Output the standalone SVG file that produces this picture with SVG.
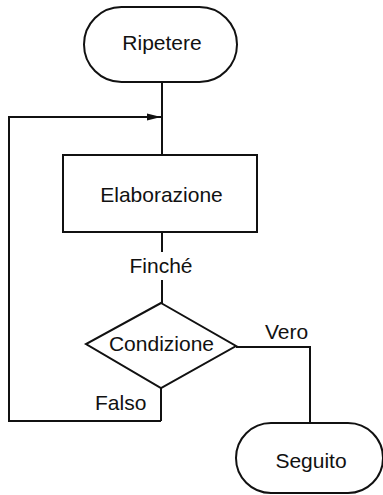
<svg xmlns="http://www.w3.org/2000/svg" width="383" height="495" viewBox="0 0 383 495">
  <style>
    .shape { fill: #fff; stroke: #111; stroke-width: 2; }
    .wire { fill: none; stroke: #111; stroke-width: 2; }
    text { font-family: "Liberation Sans", Arial, sans-serif; font-size: 21px; fill: #111; }
    .c { text-anchor: middle; }
  </style>
  <defs>
    <marker id="arrow" markerWidth="14" markerHeight="8" refX="14" refY="4" orient="auto" markerUnits="userSpaceOnUse">
      <path d="M0,0.5 L14,4 L0,7.5 Z" fill="#111"/>
    </marker>
  </defs>

  <!-- connectors -->
  <g id="connectors">
    <line class="wire" x1="162" y1="82" x2="162" y2="155"/>
    <polyline class="wire" points="161,421 9,421 9,117 161,117" marker-end="url(#arrow)"/>
    <line class="wire" x1="162" y1="232" x2="162" y2="252"/>
    <line class="wire" x1="162" y1="280" x2="162" y2="303"/>
    <line class="wire" x1="161" y1="388" x2="161" y2="421"/>
    <polyline class="wire" points="236,347 310,347 310,423"/>
    <text x="161" y="273" class="c">Finché</text>
    <text x="265" y="339">Vero</text>
    <text x="95" y="410">Falso</text>
  </g>

  <g id="start">
    <rect class="shape" x="84" y="7" width="153" height="75" rx="37.5" ry="37.5"/>
    <text x="162" y="50" class="c">Ripetere</text>
  </g>

  <g id="process">
    <rect class="shape" x="63" y="155" width="194" height="77"/>
    <text x="161.5" y="202" class="c">Elaborazione</text>
  </g>

  <g id="decision">
    <polygon class="shape" points="161,303 236,346 161,388 86,344"/>
    <text x="161.5" y="351" class="c">Condizione</text>
  </g>

  <g id="end">
    <rect class="shape" x="236" y="423" width="147" height="70" rx="35" ry="35"/>
    <text x="311" y="468" class="c">Seguito</text>
  </g>
</svg>
